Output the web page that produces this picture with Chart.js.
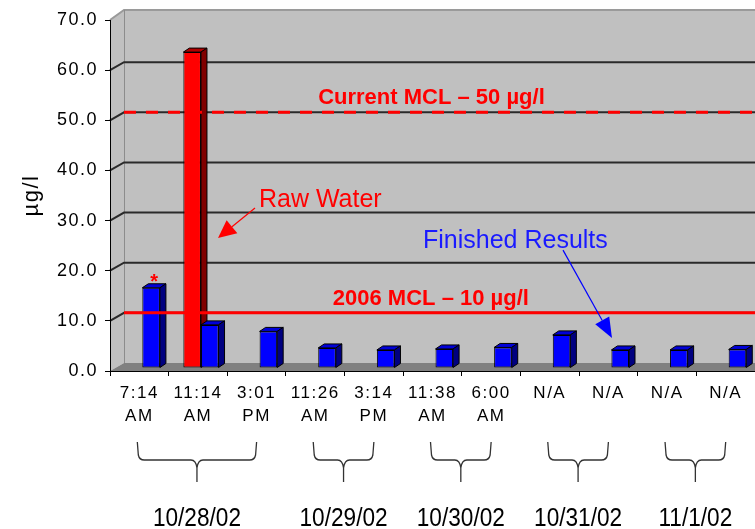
<!DOCTYPE html>
<html>
<head>
<meta charset="utf-8">
<script src="https://cdn.jsdelivr.net/npm/chart.js@4.4.1/dist/chart.umd.min.js"></script>
<style>
  html, body { margin: 0; padding: 0; background: #ffffff; }
  canvas { display: block; }
</style>
</head>
<body>
<canvas id="arsenicChart" width="755" height="529"></canvas>
<script>
// Sample times (two-line tick labels) and the date each sample belongs to
const sampleTimes    = ['7:14', '11:14', '3:01', '11:26', '3:14', '11:38', '6:00', 'N/A', 'N/A', 'N/A', 'N/A'];
const sampleMeridiem = ['AM', 'AM', 'PM', 'AM', 'PM', 'AM', 'AM', '', '', '', ''];
const sampleDates    = ['10/28/02', '10/29/02', '10/30/02', '10/31/02', '11/1/02'];
const dateFirstIdx   = [0, 3, 5, 7, 9];
const dateLastIdx    = [2, 4, 6, 8, 10];

// Arsenic concentration, µg/l
const rawWater        = [null, 63.0, null, null, null, null, null, null, null, null, null];
const finishedResults = [16.0, 8.6, 7.3, 4.0, 3.6, 3.8, 4.1, 6.6, 3.6, 3.6, 3.7];

// Regulatory limits, µg/l
const mclCurrent = 50;
const mcl2006    = 10;

// Value axis ticks
const yTicks = [0, 10, 20, 30, 40, 50, 60, 70];

// ---- drawing constants -------------------------------------------------
const FONT = 'Liberation Sans, Arial, Helvetica, sans-serif';
const WALL_DX = 14, WALL_DY = -8;      // depth of the back wall
const BAR_DX = 6, BAR_DY = -4;         // depth of each column
const BAR_SHIFT_X = 3, BAR_SHIFT_Y = -3;
const FACE = [
  { top: '#b00000', side: '#800000' },
  { top: '#0000d8', side: '#000080' }
];

const labels = sampleTimes.map((t, i) => sampleMeridiem[i] ? [t, sampleMeridiem[i]] : [t]);

function drawFaces(chart, dsIndex) {
  const ctx = chart.ctx;
  const meta = chart.getDatasetMeta(dsIndex);
  const values = chart.data.datasets[dsIndex].data;
  const colors = FACE[dsIndex];
  ctx.save();
  ctx.translate(BAR_SHIFT_X, BAR_SHIFT_Y);
  ctx.strokeStyle = '#000';
  ctx.lineWidth = 1;
  meta.data.forEach((el, i) => {
    if (values[i] == null) return;
    const { x, y, base, width } = el.getProps(['x', 'y', 'base', 'width'], true);
    const l = x - width / 2, r = x + width / 2;
    // top face
    ctx.fillStyle = colors.top;
    ctx.beginPath();
    ctx.moveTo(l, y);
    ctx.lineTo(l + BAR_DX, y + BAR_DY);
    ctx.lineTo(r + BAR_DX, y + BAR_DY);
    ctx.lineTo(r, y);
    ctx.closePath();
    ctx.fill(); ctx.stroke();
    // side face
    ctx.fillStyle = colors.side;
    ctx.beginPath();
    ctx.moveTo(r, y);
    ctx.lineTo(r + BAR_DX, y + BAR_DY);
    ctx.lineTo(r + BAR_DX, base + BAR_DY);
    ctx.lineTo(r, base);
    ctx.closePath();
    ctx.fill(); ctx.stroke();
  });
  ctx.restore();
}

function arrow(ctx, x0, y0, x1, y1, color, headLen, headW) {
  const ang = Math.atan2(y1 - y0, x1 - x0);
  const bx = x1 - headLen * Math.cos(ang), by = y1 - headLen * Math.sin(ang);
  ctx.strokeStyle = color;
  ctx.lineWidth = 1.2;
  ctx.beginPath(); ctx.moveTo(x0, y0); ctx.lineTo(bx, by); ctx.stroke();
  const nx = -Math.sin(ang) * headW / 2, ny = Math.cos(ang) * headW / 2;
  ctx.fillStyle = color;
  ctx.beginPath();
  ctx.moveTo(x1, y1);
  ctx.lineTo(bx + nx, by + ny);
  ctx.lineTo(bx - nx, by - ny);
  ctx.closePath();
  ctx.fill();
}

const scenePlugin = {
  id: 'scene',
  beforeDraw(chart) {
    const { ctx, chartArea: a, scales: { y } } = chart;
    const top = y.getPixelForValue(yTicks[yTicks.length - 1]);
    const bot = y.getPixelForValue(0);
    const L = a.left, R = chart.width;
    ctx.save();
    ctx.fillStyle = '#ffffff';
    ctx.fillRect(0, 0, chart.width, chart.height);
    // side wall
    ctx.fillStyle = '#c0c0c0';
    ctx.beginPath();
    ctx.moveTo(L, top); ctx.lineTo(L + WALL_DX, top + WALL_DY - 2);
    ctx.lineTo(L + WALL_DX, bot + WALL_DY); ctx.lineTo(L, bot);
    ctx.closePath(); ctx.fill();
    // back wall
    ctx.fillRect(L + WALL_DX, top + WALL_DY - 2, R - L - WALL_DX, bot - top + 2);
    // floor
    ctx.fillStyle = '#808080';
    ctx.beginPath();
    ctx.moveTo(L, bot); ctx.lineTo(L + WALL_DX, bot + WALL_DY);
    ctx.lineTo(R, bot + WALL_DY); ctx.lineTo(R, bot);
    ctx.closePath(); ctx.fill();
    // wall edges
    ctx.strokeStyle = '#9a9a9a';
    ctx.lineWidth = 2;
    ctx.beginPath();
    ctx.moveTo(L, top); ctx.lineTo(L + WALL_DX, top + WALL_DY - 2); ctx.lineTo(R, top + WALL_DY - 2);
    ctx.stroke();
    ctx.lineWidth = 1;
    ctx.strokeStyle = '#8c8c8c';
    ctx.beginPath();
    ctx.moveTo(L + WALL_DX + 0.5, top + WALL_DY - 2); ctx.lineTo(L + WALL_DX + 0.5, bot + WALL_DY);
    ctx.stroke();
    // grid lines on the side and back walls
    ctx.strokeStyle = '#2a2a2a';
    ctx.lineWidth = 2;
    yTicks.slice(1, -1).forEach(v => {
      const py = y.getPixelForValue(v);
      ctx.beginPath();
      ctx.moveTo(L, py);
      ctx.lineTo(L + WALL_DX, py + WALL_DY);
      ctx.lineTo(R, py + WALL_DY);
      ctx.stroke();
    });
    ctx.restore();
    ctx.letterSpacing = '1.5px';
  },
  beforeDatasetsDraw(chart) {
    chart.ctx.letterSpacing = '0px';
    // faces of the front-row series go behind the neighbouring columns
    for (let d = 0; d < chart.data.datasets.length - 1; d++) drawFaces(chart, d);
  },
  beforeDatasetDraw(chart) {
    chart.ctx.save();
    chart.ctx.translate(BAR_SHIFT_X, BAR_SHIFT_Y);
  },
  afterDatasetDraw(chart) {
    chart.ctx.restore();
  },
  afterDatasetsDraw(chart) {
    const { ctx, chartArea: a, scales: { x, y } } = chart;
    drawFaces(chart, chart.data.datasets.length - 1);
    const px = v => x.getPixelForValue(v);
    const py = v => y.getPixelForValue(v);
    const L = a.left + WALL_DX, R = chart.width;
    ctx.save();
    // current MCL (dashed) and 2006 MCL (solid)
    const yCur = py(mclCurrent) + WALL_DY;
    const y06 = py(mcl2006) + WALL_DY;
    ctx.strokeStyle = '#ff0000';
    ctx.lineWidth = 3;
    ctx.setLineDash([12, 10]);
    ctx.beginPath(); ctx.moveTo(L, yCur); ctx.lineTo(R, yCur); ctx.stroke();
    ctx.setLineDash([]);
    ctx.beginPath(); ctx.moveTo(L, y06); ctx.lineTo(R, y06); ctx.stroke();

    ctx.fillStyle = '#ff0000';
    ctx.textAlign = 'left';
    ctx.textBaseline = 'alphabetic';
    ctx.font = 'bold 22px ' + FONT;
    ctx.fillText('Current MCL \u2013 ' + mclCurrent + ' \u00b5g/l', px(3.05), yCur - 8);
    ctx.fillText('2006 MCL \u2013 ' + mcl2006 + ' \u00b5g/l', px(3.30), y06 - 8);

    // series call-outs
    ctx.font = '25px ' + FONT;
    ctx.fillText('Raw Water', px(2.04), py(32.7));
    arrow(ctx, px(1.973), py(32.5), px(1.342), py(26.5), '#ff0000', 18, 17);

    ctx.fillStyle = '#1a1aff';
    ctx.fillText('Finished Results', px(4.838), py(24.5));
    arrow(ctx, px(7.226), py(24.1), px(8.061), py(6.6), '#0000ff', 20, 16);

    // asterisk above the first finished sample
    const first = chart.getDatasetMeta(1).data[0];
    ctx.fillStyle = '#ff0000';
    ctx.font = 'bold 20px ' + FONT;
    ctx.textAlign = 'center';
    ctx.fillText('*', first.x + BAR_SHIFT_X + BAR_DX / 2, first.y + BAR_SHIFT_Y);
    ctx.restore();
  },
  afterDraw(chart) {
    const { ctx, chartArea: a, scales: { x } } = chart;
    const bot = a.bottom;
    const top = bot + 71, mid = bot + 89, tip = bot + 111, base = bot + 155;
    ctx.save();
    ctx.strokeStyle = '#333333';
    ctx.lineWidth = 1.3;
    sampleDates.forEach((d, k) => {
      const x1 = x.getPixelForValue(dateFirstIdx[k]) - 2;
      const x2 = x.getPixelForValue(dateLastIdx[k]);
      const xc = (x1 + x2) / 2;
      ctx.beginPath();
      ctx.moveTo(x1, top);
      ctx.lineTo(x1 + 1, mid - 5);
      ctx.quadraticCurveTo(x1 + 2, mid, x1 + 7, mid);
      ctx.lineTo(xc - 6, mid);
      ctx.quadraticCurveTo(xc - 1, mid, xc, mid + 8);
      ctx.lineTo(xc, tip);
      ctx.moveTo(xc, mid + 8);
      ctx.quadraticCurveTo(xc + 1, mid, xc + 6, mid);
      ctx.lineTo(x2 - 7, mid);
      ctx.quadraticCurveTo(x2 - 2, mid, x2 - 1, mid - 5);
      ctx.lineTo(x2, top);
      ctx.stroke();

      ctx.save();
      ctx.translate(xc, base);
      ctx.scale(0.87, 1);
      ctx.fillStyle = '#000';
      ctx.font = '26px ' + FONT;
      ctx.textAlign = 'center';
      ctx.textBaseline = 'alphabetic';
      ctx.fillText(d, 0, 0);
      ctx.restore();
    });
    ctx.restore();
  }
};

Chart.defaults.font.family = FONT;

new Chart(document.getElementById('arsenicChart'), {
  type: 'bar',
  data: {
    labels: labels,
    datasets: [
      {
        label: 'Raw Water',
        data: rawWater,
        backgroundColor: '#ff0000',
        borderColor: '#000000',
        borderWidth: 1,
        borderSkipped: false,
        categoryPercentage: 0.6,
        barPercentage: 1.0
      },
      {
        label: 'Finished Results',
        data: finishedResults,
        backgroundColor: '#0000ff',
        borderColor: '#000000',
        borderWidth: 1,
        borderSkipped: false,
        categoryPercentage: 0.6,
        barPercentage: 1.0
      }
    ]
  },
  options: {
    responsive: false,
    animation: false,
    events: [],
    layout: { padding: { top: 20, right: 0, bottom: 0, left: 0 } },
    plugins: {
      legend: { display: false },
      title: { display: false },
      tooltip: { enabled: false }
    },
    scales: {
      x: {
        offset: true,
        grid: { offset: true, drawOnChartArea: false, tickLength: 5, color: '#000000', lineWidth: 1 },
        border: { color: '#000000', width: 1 },
        ticks: {
          color: '#000000',
          font: { size: 17, lineHeight: 1.4 },
          padding: 5,
          maxRotation: 0,
          autoSkip: false
        },
        afterFit(scale) { scale.height = 158; }
      },
      y: {
        min: 0,
        max: 70,
        afterBuildTicks(scale) { scale.ticks = yTicks.map(v => ({ value: v })); },
        grid: { drawOnChartArea: false, tickLength: 5, color: '#000000', lineWidth: 1 },
        border: { color: '#000000', width: 1 },
        ticks: {
          color: '#000000',
          font: { size: 18 },
          padding: 7,
          callback: v => Number(v).toFixed(1)
        },
        title: {
          display: true,
          text: '\u00b5g/l',
          color: '#000000',
          font: { size: 22 },
          padding: { top: 19, bottom: 0 }
        },
        afterFit(scale) { scale.width = 110; }
      }
    }
  },
  plugins: [scenePlugin]
});
</script>
</body>
</html>
